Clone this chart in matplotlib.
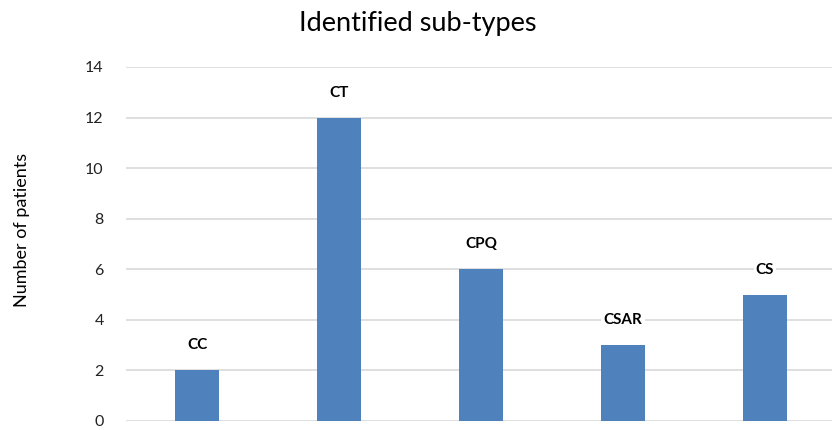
import matplotlib
matplotlib.use("Agg")
import matplotlib.pyplot as plt

categories = ["CC", "CT", "CPQ", "CSAR", "CS"]
values = [2, 12, 6, 3, 5]
yticks = [0, 2, 4, 6, 8, 10, 12, 14]

plt.rcParams['font.family'] = ['Lato', 'DejaVu Sans']

fig = plt.figure(figsize=(8.32, 4.30), dpi=100)
ax = fig.add_axes([126/832, 9/430, 710/832, 354/430])
x = list(range(len(categories)))
ax.bar(x, values, width=0.31, color="#4F81BD", zorder=3)
ax.set_xlim(-0.5, len(categories) - 0.5)
ax.set_ylim(0, 14)
ax.set_yticks(yticks)
ax.set_yticklabels([str(t) for t in yticks], fontsize=11.5, color="#222222")
ax.set_xticks([])
ax.tick_params(axis='y', length=0, pad=16)
ax.grid(axis='y', color="#d9d9d9", linewidth=1.2, zorder=0)
for s in ax.spines.values():
    s.set_visible(False)

for xi, v, c in zip(x, values, categories):
    ax.annotate(c, (xi, v), xytext=(0, 18), textcoords='offset points',
                ha='center', va='center', fontsize=11, fontweight='bold',
                bbox=dict(facecolor='white', edgecolor='none', pad=1.5), zorder=4)

fig.text(418/832, 1 - 23/430, "Identified sub-types", ha='center', va='center', fontsize=19.5)
fig.text(22/832, 1 - 230/430, "Number of patients", ha='center', va='center',
         rotation=90, fontsize=13)

fig.savefig("out.png", dpi=100)
